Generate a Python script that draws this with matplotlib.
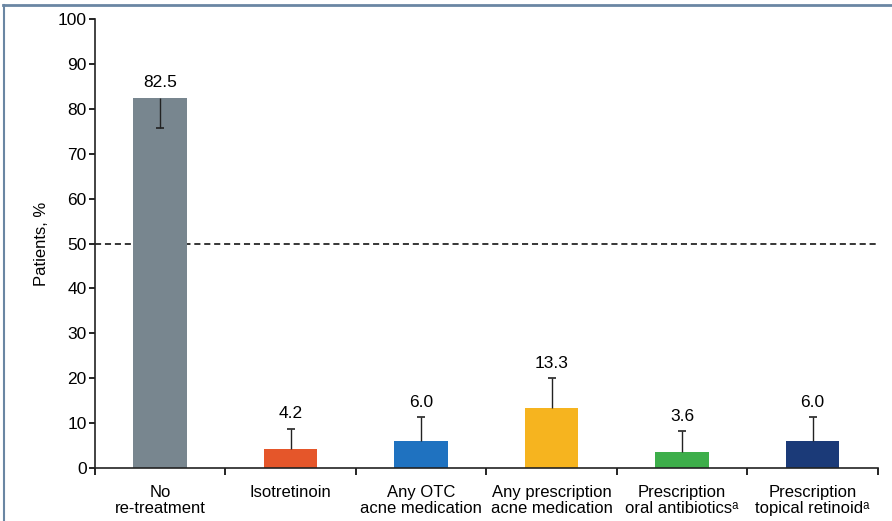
import numpy as np
import matplotlib.pyplot as plt
from matplotlib.lines import Line2D

categories = ["No\nre-treatment", "Isotretinoin", "Any OTC\nacne medication",
              "Any prescription\nacne medication", "Prescription\noral antibiotics\u1d43",
              "Prescription\ntopical retinoid\u1d43"]
values = [82.5, 4.2, 6.0, 13.3, 3.6, 6.0]
err_lower = [6.8, 0, 0, 0, 0, 0]
err_upper = [0, 4.6, 5.4, 6.7, 4.6, 5.4]
colors = ["#78868f", "#e5562a", "#1f72c0", "#f6b41f", "#3dae4a", "#1b3a78"]

plt.rcParams['font.family'] = ['Liberation Sans', 'DejaVu Sans']

fig = plt.figure(figsize=(8.92, 5.21), dpi=100)
ax = fig.add_axes([0.1065, 0.1017, 0.8775, 0.8618])

x = np.arange(len(values))
vals = np.array(values)
lo = vals - np.array(err_lower)
hi = vals + np.array(err_upper)
ax.bar(x, vals, width=0.41, color=colors, zorder=2)

# one-sided error bars, cap only at the far end
ax.vlines(x, lo, hi, color="#222222", linewidth=1, zorder=3)
tips = np.where(np.array(err_upper) > 0, hi, lo)
ax.plot(x, tips, linestyle="none", marker="_", markersize=6, markeredgewidth=1.2,
        color="#222222", zorder=3)

for xi, v, eu in zip(x, values, err_upper):
    ax.text(xi, v + eu + 1.6, f"{v:.1f}", ha="center", va="bottom", fontsize=12.5)

ax.axhline(50, color="black", linestyle=(0, (4, 2.5)), linewidth=1.1, zorder=1)

ax.set_xlim(-0.5, 5.5)
ax.set_ylim(0, 100)
ax.set_yticks(np.arange(0, 101, 10))
ax.set_xticks(x)
ax.set_xticklabels(categories, fontsize=12, linespacing=1.15)
ax.tick_params(axis="x", length=0, pad=12)
ax.set_xticks(np.arange(-0.5, 5.6, 1), minor=True)
ax.tick_params(axis="x", which="minor", length=5, width=1.2, direction="out")
ax.tick_params(axis="y", length=4, width=1.2, labelsize=12.5, pad=2)
ax.set_ylabel("Patients, %", fontsize=12, labelpad=6)

for s in ["top", "right"]:
    ax.spines[s].set_visible(False)
for s in ["left", "bottom"]:
    ax.spines[s].set_linewidth(1.2)
    ax.spines[s].set_color("#222222")

# frame lines of the original figure panel
fig.add_artist(Line2D([0.003, 1.0], [0.99, 0.99], color="#6a86a3", linewidth=2, transform=fig.transFigure))
fig.add_artist(Line2D([0.004, 0.004], [0.0, 0.99], color="#6a86a3", linewidth=1.5, transform=fig.transFigure))

fig.savefig("out.png", dpi=100)
